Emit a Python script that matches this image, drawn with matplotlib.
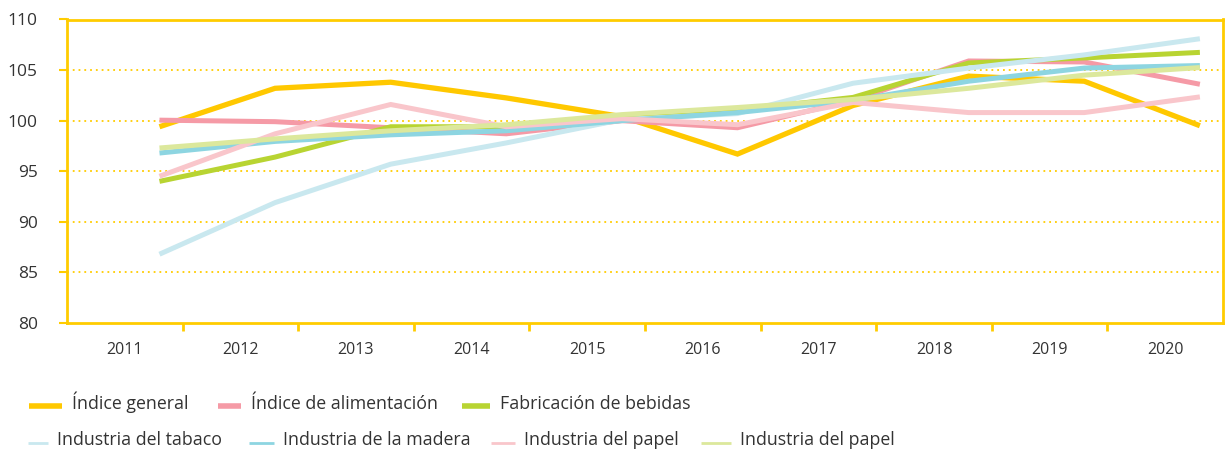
import matplotlib
matplotlib.use("Agg")
import matplotlib.pyplot as plt
from matplotlib.lines import Line2D
import numpy as np

plt.rcParams['font.family'] = ['Open Sans', 'DejaVu Sans']

years = ['2011', '2012', '2013', '2014', '2015', '2016', '2017', '2018', '2019', '2020']
series_names = ['Índice general', 'Índice de alimentación', 'Fabricación de bebidas',
                'Industria del tabaco', 'Industria de la madera', 'Industria del papel',
                'Industria del papel']
indice_general = [99.4, 103.2, 103.8, 102.25, 100.4, 96.7, 101.5, 104.4, 103.9, 99.5]
indice_alimentacion = [100.05, 99.9, 99.3, 98.7, 100.0, 99.3, 102.0, 105.9, 105.8, 103.6]
fabricacion_bebidas = [94.0, 96.4, 99.4, 99.4, 100.35, 101.05, 102.3, 105.7, 106.2, 106.75]
industria_tabaco = [86.8, 91.9, 95.7, 97.8, 100.1, 100.7, 103.7, 105.2, 106.5, 108.1]
industria_madera = [96.8, 97.95, 98.6, 99.0, 100.0, 100.8, 102.0, 103.9, 105.2, 105.45]
industria_papel = [94.5, 98.7, 101.6, 99.4, 100.2, 99.6, 101.8, 100.8, 100.8, 102.35]
industria_papel_2 = [97.3, 98.2, 99.0, 99.6, 100.6, 101.3, 102.1, 103.2, 104.5, 105.25]

series = [indice_general, indice_alimentacion, fabricacion_bebidas, industria_tabaco,
          industria_madera, industria_papel, industria_papel_2]
colors = ['#FFC800', '#F59AA6', '#B8D432', '#C9E8EF', '#8DD5E1', '#F9C6CB', '#DCE89C']
widths = [3.8, 3.6, 3.6, 3.6, 3.6, 3.6, 3.6]
axis_color = '#FFCC00'
text_color = '#333333'

W, H = 1225, 450
fig = plt.figure(figsize=(W / 100, H / 100), dpi=100)
ax = fig.add_axes([67 / W, 1 - 323 / H, (1223 - 67) / W, (323 - 19.5) / H])

n = len(years)
xpos = np.arange(n) + 0.8
for vals, c, lw in zip(series, colors, widths):
    ax.plot(xpos, vals, color=c, lw=lw, solid_joinstyle='miter', solid_capstyle='butt', zorder=3)

ax.set_xlim(0, n)
ax.set_ylim(80, 110)
ax.set_yticks(np.arange(80, 111, 5))
for y in np.arange(85, 110, 5):
    ax.axhline(y, color=axis_color, lw=1.3, linestyle=(0, (1, 2.2)), zorder=1)

ax.set_xticks(np.arange(1, n))
ax.set_xticklabels([])
ax.set_xticks(np.arange(n) + 0.5, minor=True)
ax.set_xticklabels(years, minor=True)
ax.tick_params(axis='x', which='major', length=6, width=2, color=axis_color, direction='out')
ax.tick_params(axis='x', which='minor', length=0, pad=14, labelsize=11.5, labelcolor=text_color)
ax.tick_params(axis='y', length=6, width=1.5, color=axis_color, direction='out', pad=15,
               labelsize=12.5, labelcolor=text_color)
for s in ax.spines.values():
    s.set_color(axis_color)
    s.set_linewidth(2)

# legend (manual layout): (series index, handle x0, handle x1, text x, baseline y, handle y, lw)
legend_rows = [
    [(0, 29, 62, 72, 409, 406, 4.0), (1, 218, 241, 251, 409, 406, 4.0),
     (2, 462, 490, 500, 409, 406, 4.0)],
    [(3, 28, 48, 57, 445, 443, 2.0), (4, 249, 274, 283, 445, 443, 2.0),
     (5, 491, 515, 524, 445, 443, 2.0), (6, 701, 731, 740, 445, 443, 2.0)],
]
for row in legend_rows:
    for idx, x0, x1, xt, yb, yl, lw in row:
        fig.add_artist(Line2D([x0 / W, x1 / W], [1 - yl / H, 1 - yl / H], color=colors[idx],
                              lw=lw, transform=fig.transFigure, solid_capstyle='butt'))
        fig.text(xt / W, 1 - yb / H, series_names[idx], fontsize=12.8, color=text_color,
                 ha='left', va='baseline')

fig.savefig('out.png', dpi=100)
